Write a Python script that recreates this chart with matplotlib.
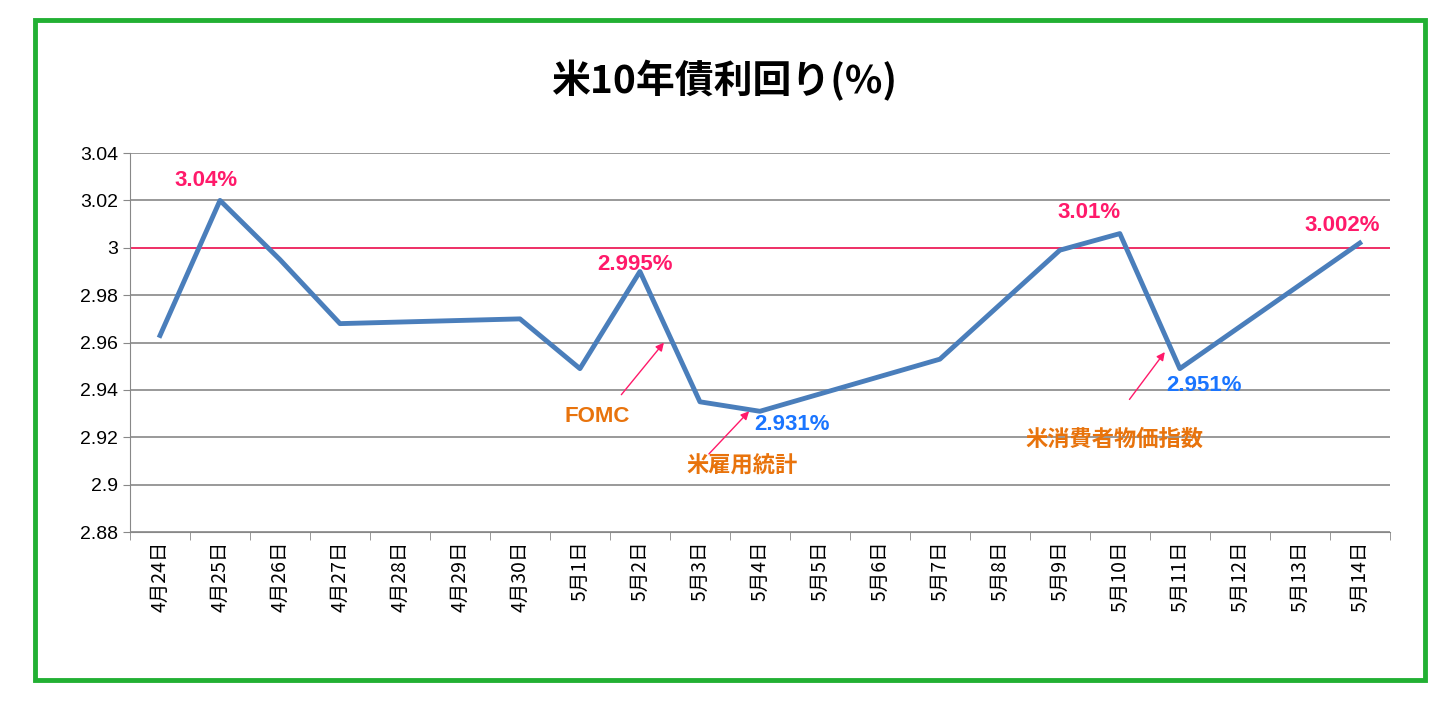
import numpy as np
import matplotlib.pyplot as plt
from matplotlib.patches import Rectangle

plt.rcParams["font.family"] = ["Noto Sans CJK JP", "DejaVu Sans"]

dates = ["4月24日", "4月25日", "4月26日", "4月27日", "4月28日", "4月29日", "4月30日",
         "5月1日", "5月2日", "5月3日", "5月4日", "5月5日", "5月6日", "5月7日",
         "5月8日", "5月9日", "5月10日", "5月11日", "5月12日", "5月13日", "5月14日"]
yields = [2.963, 3.020, 2.995, 2.968, np.nan, np.nan, 2.970,
          2.949, 2.990, 2.935, 2.931, np.nan, np.nan, 2.953,
          2.976, 2.999, 3.006, 2.949, np.nan, np.nan, 3.002]
yticks = [2.88, 2.9, 2.92, 2.94, 2.96, 2.98, 3, 3.02, 3.04]
ytick_labels = ["2.88", "2.9", "2.92", "2.94", "2.96", "2.98", "3", "3.02", "3.04"]

fig = plt.figure(figsize=(14.48, 7.02), dpi=100)
fig.patches.append(Rectangle((35 / 1448, 1 - 680 / 702), 1390 / 1448, 660 / 702,
                             transform=fig.transFigure, fill=False,
                             edgecolor="#22b033", linewidth=3.5))
ax = fig.add_axes([0.0898, 0.242, 0.870, 0.540])

x = np.arange(len(dates))
y = np.array(yields)
ok = ~np.isnan(y)
ax.plot(x[ok], y[ok], color="#4a7ebb", linewidth=3.5, zorder=3)
ax.axhline(3.0, color="#ff2060", linewidth=1.2, zorder=2)

ax.set_xlim(-0.5, len(dates) - 0.5)
ax.set_ylim(2.88, 3.04)
ax.set_yticks(yticks)
ax.set_yticklabels(ytick_labels, fontsize=14, family="Liberation Sans")
ax.set_xticks(x)
ax.set_xticklabels(dates, rotation=90, fontsize=14)
ax.set_xticks(np.arange(-0.5, len(dates)), minor=True)
ax.tick_params(axis="x", which="major", length=0, pad=6)
ax.tick_params(axis="x", which="minor", length=6, color="#888888")
ax.tick_params(axis="y", length=5, color="#888888")
ax.yaxis.grid(True, color="#888888", linewidth=1.2)
ax.set_axisbelow(True)
for s in ("top", "right"):
    ax.spines[s].set_visible(False)
ax.spines["left"].set_color("#888888")
ax.spines["bottom"].set_color("#888888")

red, blue, orange = "#ff1a6a", "#1a75ff", "#e8730c"
kw = dict(fontsize=16, fontweight="bold", family="Liberation Sans", va="center")
ax.text(0.77, 3.0286, "3.04%", color=red, ha="center", **kw)
ax.text(7.91, 2.993, "2.995%", color=red, ha="center", **kw)
ax.text(15.49, 3.0147, "3.01%", color=red, ha="center", **kw)
ax.text(19.7, 3.0096, "3.002%", color=red, ha="center", **kw)
ax.text(9.9, 2.9256, "2.931%", color=blue, ha="left", **kw)
ax.text(17.41, 2.942, "2.951%", color=blue, ha="center", **kw)
ax.text(7.28, 2.9286, "FOMC", color=orange, ha="center", **kw)
ax.text(9.70, 2.908, "米雇用統計", color=orange, ha="center", va="center",
        fontsize=16, fontweight="bold")
ax.text(15.91, 2.919, "米消費者物価指数", color=orange, ha="center", va="center",
        fontsize=16, fontweight="bold")

arrow = dict(arrowstyle="-|>", color=red, lw=1, mutation_scale=12,
             shrinkA=0, shrinkB=0)
for (x0, y0), (x1, y1) in [((7.69, 2.938), (8.40, 2.960)),
                           ((9.15, 2.913), (9.82, 2.931)),
                           ((16.16, 2.936), (16.75, 2.956))]:
    ax.annotate("", xy=(x1, y1), xytext=(x0, y0), arrowprops=arrow)

fig.text(0.5, 0.885, "米10年債利回り(%)", ha="center", va="center", fontsize=28, fontweight="bold")

fig.savefig("out.png", dpi=100, facecolor="white")
